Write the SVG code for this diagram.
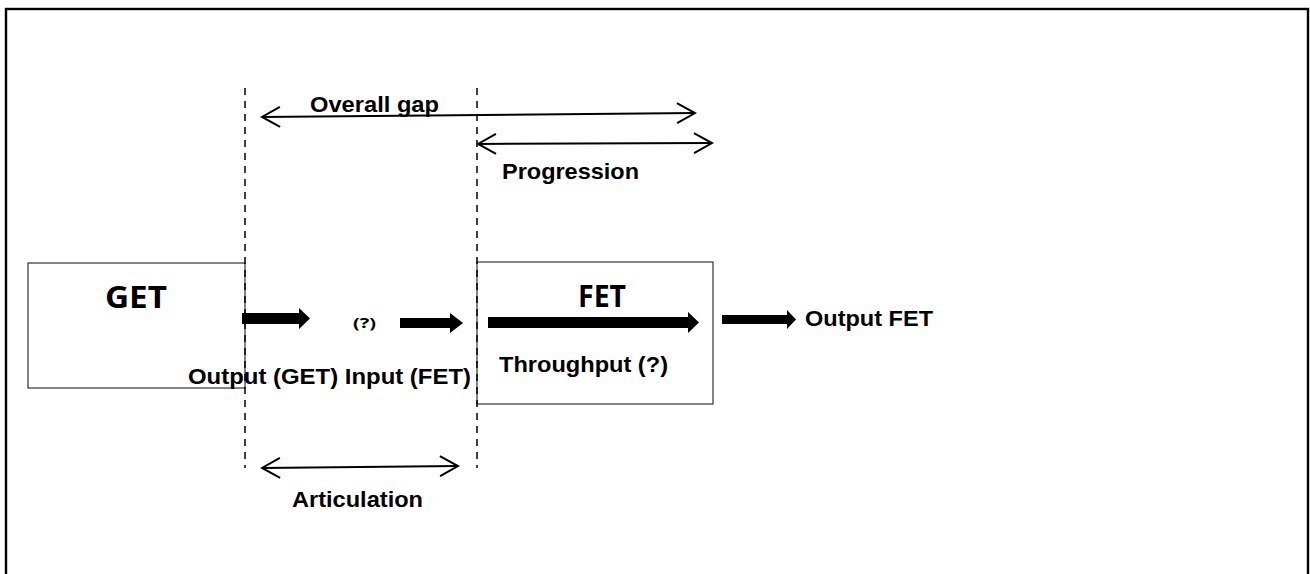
<svg xmlns="http://www.w3.org/2000/svg" width="1310" height="574" viewBox="0 0 1310 574">
<defs>
<style>
.lbl{font-family:"Liberation Sans",Arial,sans-serif;font-weight:bold;font-size:22px;fill:#000}
.big{font-family:"Noto Sans","Open Sans",sans-serif;font-weight:bold;font-size:31px;fill:#000}
.box{fill:#fff;stroke:#333;stroke-width:1.2}
.dash{stroke:#000;stroke-width:1.5;stroke-dasharray:7 6;fill:none}
.dim{stroke:#000;stroke-width:2;fill:none;marker-start:url(#open);marker-end:url(#open)}
.thick{fill:#000}
</style>
<marker id="open" viewBox="-20 -12 22 24" refX="0" refY="0" markerWidth="22" markerHeight="24" markerUnits="userSpaceOnUse" orient="auto-start-reverse">
<path d="M -18 -10 L 0 0 L -18 10" fill="none" stroke="#000" stroke-width="2"/>
</marker>
</defs>
<rect x="0" y="0" width="1310" height="574" fill="#fff"/>
<rect x="6" y="9" width="1302" height="580" fill="none" stroke="#000" stroke-width="2.4"/>

<g id="GET">
<rect class="box" x="28" y="263" width="217" height="125"/>
<text class="big" x="105" y="308" textLength="62" lengthAdjust="spacingAndGlyphs">GET</text>
</g>
<g id="FET">
<rect class="box" x="477" y="262" width="236" height="142"/>
<text class="big" x="578" y="307" textLength="48" lengthAdjust="spacingAndGlyphs">FET</text>
<text class="lbl" x="499" y="372" textLength="169" lengthAdjust="spacingAndGlyphs">Throughput (?)</text>
</g>
<g id="labels">
<text class="lbl" x="188" y="384" textLength="283" lengthAdjust="spacingAndGlyphs">Output (GET) Input (FET)</text>
<text x="353" y="328" font-family="Noto Sans,sans-serif" font-weight="bold" font-size="15" textLength="23" lengthAdjust="spacingAndGlyphs">(?)</text>
<text class="lbl" x="805" y="326" textLength="128" lengthAdjust="spacingAndGlyphs">Output FET</text>
<text class="lbl" x="310" y="112" textLength="129" lengthAdjust="spacingAndGlyphs">Overall gap</text>
<text class="lbl" x="502" y="179" textLength="137" lengthAdjust="spacingAndGlyphs">Progression</text>
<text class="lbl" x="292" y="507" textLength="131" lengthAdjust="spacingAndGlyphs">Articulation</text>
</g>
<g id="connectors">
<line class="dash" x1="245" y1="88" x2="245" y2="468"/>
<line class="dash" x1="477" y1="88" x2="477" y2="468"/>
<line class="dim" x1="262" y1="117" x2="695" y2="113"/>
<line class="dim" x1="478" y1="144" x2="712" y2="143"/>
<line class="dim" x1="262" y1="468" x2="458" y2="466"/>
<polygon class="thick" points="242,313 299,313 299,308 310,318.5 299,329 299,324 242,324"/>
<polygon class="thick" points="400,318 450,318 450,313 463,323 450,333 450,328 400,328"/>
<polygon class="thick" points="488,317 688,317 688,312 699,322.5 688,333 688,328 488,328"/>
<polygon class="thick" points="722,315 787,315 787,310 796,319.5 787,329 787,324 722,324"/>
</g>
</svg>
